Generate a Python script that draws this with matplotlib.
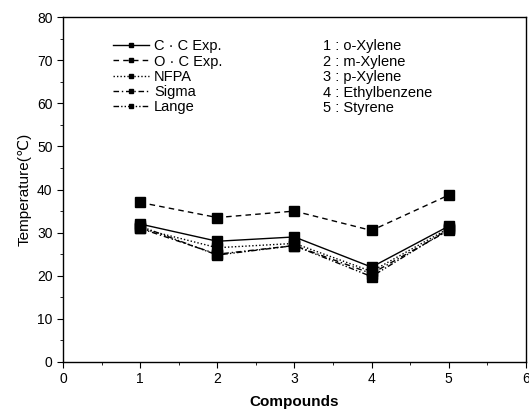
import matplotlib
matplotlib.use("Agg")
import matplotlib.pyplot as plt

plt.rcParams['font.family'] = ['Liberation Sans', 'DejaVu Sans']

# data
compounds = [1, 2, 3, 4, 5]
cc_exp = [32.0, 28.0, 29.0, 22.0, 31.5]
oc_exp = [37.0, 33.5, 35.0, 30.5, 38.7]
nfpa = [31.0, 26.5, 27.5, 21.0, 31.0]
sigma = [31.0, 25.0, 27.0, 20.5, 30.5]
lange = [31.5, 24.8, 27.0, 19.8, 30.8]
compound_names = ["1 : o-Xylene", "2 : m-Xylene", "3 : p-Xylene",
                  "4 : Ethylbenzene", "5 : Styrene"]

fig = plt.figure(figsize=(5.29, 4.17), dpi=100)
ax = fig.add_axes([0.119, 0.132, 0.875, 0.827])

series = [
    ("C \u00b7 C Exp.", cc_exp, "-"),
    ("O \u00b7 C Exp.", oc_exp, (0, (4, 3))),
    ("NFPA", nfpa, (0, (1, 1.5))),
    ("Sigma", sigma, (0, (4, 2, 1, 2))),
    ("Lange", lange, (0, (4, 1.5, 1, 1.5, 1, 1.5))),
]
for label, vals, ls in series:
    ax.plot(compounds, vals, color="black", linestyle=ls, linewidth=1.0,
            marker="s", markersize=6.5, label=label)

ax.set_xlim(0, 6)
ax.set_ylim(0, 80)
ax.set_xticks(range(0, 7))
ax.set_yticks(range(0, 81, 10))
ax.set_xticks([x + 0.5 for x in range(0, 6)], minor=True)
ax.set_yticks(range(5, 80, 10), minor=True)
ax.tick_params(direction="out", labelsize=10, length=4)
ax.tick_params(which="minor", direction="out", length=2)
for s in ax.spines.values():
    s.set_linewidth(1.0)

ax.set_xlabel("Compounds", fontsize=11, fontweight="bold", labelpad=6)
ax.set_ylabel("Temperature(\u2103)", fontsize=11, labelpad=4)

ax.legend(loc="upper left", bbox_to_anchor=(0.085, 0.965), frameon=False,
          fontsize=10.5, handlelength=2.5, handletextpad=0.35,
          labelspacing=0.08, borderpad=0.2, markerscale=0.45)

for i, name in enumerate(compound_names):
    ax.text(0.562, 0.916 - i * 0.045, name, transform=ax.transAxes,
            fontsize=10.5, va="center", ha="left")

fig.savefig("out.png", dpi=100)
